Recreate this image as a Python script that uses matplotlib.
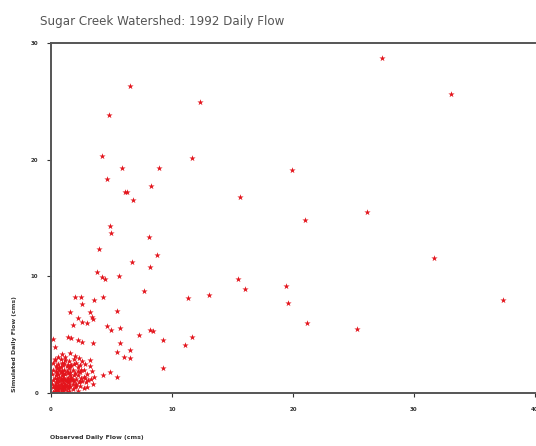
import matplotlib
matplotlib.use('Agg')
import matplotlib.pyplot as plt

# observed vs simulated daily flow, cms
high_x = [27.4, 33.1, 6.5, 12.3, 4.8, 4.2, 11.7, 5.9, 8.9, 4.6, 19.9, 6.1, 6.3, 8.3, 6.8,
          15.6, 26.1, 21.0, 4.9, 5.0, 8.1, 4.0, 8.8, 31.7, 6.7, 8.2, 3.8, 4.2, 5.6, 4.5,
          15.5, 16.0, 19.4, 19.6, 13.1, 11.3, 21.2, 25.3, 37.4, 7.7, 8.4, 9.3, 11.1, 11.7,
          9.3, 2.0, 2.5, 2.6, 3.6, 4.3, 5.5, 3.2, 2.2, 2.6, 3.0, 4.6, 5.0, 5.7, 7.3, 1.4,
          1.7, 2.2, 2.6, 3.5, 5.7, 6.5, 5.5, 6.0, 6.5, 4.9, 4.3, 5.5, 0.3, 0.3, 1.6, 3.4,
          3.5, 1.8, 8.2, 0.2]
high_y = [28.7, 25.6, 26.3, 24.9, 23.8, 20.3, 20.1, 19.3, 19.3, 18.3, 19.1, 17.2, 17.2, 17.7, 16.5,
          16.8, 15.5, 14.8, 14.3, 13.7, 13.4, 12.3, 11.8, 11.6, 11.2, 10.8, 10.4, 9.9, 10.0, 9.8,
          9.8, 8.9, 9.2, 7.7, 8.4, 8.1, 6.0, 5.5, 8.0, 8.7, 5.3, 4.5, 4.1, 4.8,
          2.1, 8.2, 8.2, 7.6, 8.0, 8.2, 7.0, 6.9, 6.4, 6.1, 6.0, 5.7, 5.4, 5.6, 5.0, 4.8,
          4.7, 4.5, 4.4, 4.3, 4.3, 3.7, 3.5, 3.1, 3.0, 1.8, 1.5, 1.4, 3.9, 2.8, 6.9, 6.5,
          6.3, 5.8, 5.4, 4.6]

low_x = [0.2, 0.3, 0.4, 0.5, 0.6, 0.7, 0.8, 0.9, 1.0, 1.1, 1.2, 1.3, 1.4, 1.5, 1.6, 1.8, 2.0, 2.2, 2.4, 2.7,
         0.2, 0.3, 0.4, 0.5, 0.6, 0.7, 0.8, 0.9, 1.0, 1.1, 1.2, 1.3, 1.4, 1.5, 1.6, 1.7, 1.9, 2.1, 2.3, 2.5,
         0.3, 0.4, 0.5, 0.6, 0.7, 0.8, 0.9, 1.0, 1.1, 1.2, 1.3, 1.4, 1.5, 1.6, 1.8, 2.0, 2.2, 2.4, 2.7, 3.0,
         0.2, 0.4, 0.5, 0.6, 0.8, 0.9, 1.0, 1.2, 1.3, 1.5, 1.7, 1.9, 2.1, 2.3, 2.6, 0.3, 0.6, 0.9, 1.2, 1.6,
         2.0, 0.1, 0.1, 0.2, 3.3, 3.5, 3.2, 2.9, 2.8, 3.4, 0.5, 0.7, 0.9, 1.1, 1.3, 1.5, 0.6, 0.8, 1.0, 1.2,
         0.4, 0.5, 0.7, 1.4, 1.7, 1.9, 2.2, 2.4, 1.1, 0.8, 0.3, 0.2, 1.0, 1.8, 2.1, 2.6, 3.0, 1.4, 1.6, 0.9,
         0.6, 0.9, 1.2, 1.5, 1.8, 2.1, 2.4, 2.7, 3.1, 0.4, 0.7, 1.0, 1.3, 1.6, 1.9, 2.2, 2.5, 2.8, 3.2, 3.6]
low_y = [0.1, 0.2, 0.1, 0.3, 0.2, 0.4, 0.1, 0.3, 0.2, 0.5, 0.3, 0.1, 0.4, 0.2, 0.6, 0.3, 0.5, 0.2, 0.6, 0.4,
         0.5, 0.7, 0.6, 0.9, 0.7, 1.0, 0.8, 1.1, 0.9, 1.2, 0.8, 1.0, 1.3, 0.9, 1.1, 1.4, 1.0, 1.2, 0.9, 1.3,
         1.3, 1.5, 1.2, 1.6, 1.4, 1.8, 1.5, 1.7, 2.0, 1.6, 1.9, 1.7, 2.1, 1.8, 2.0, 1.7, 2.2, 1.8, 2.0, 1.6,
         2.0, 2.3, 2.1, 2.5, 2.2, 2.6, 2.4, 2.8, 2.3, 2.7, 2.4, 2.9, 2.6, 3.0, 2.7, 2.9, 3.1, 3.3, 3.1, 3.4,
         3.2, 0.8, 1.6, 2.6, 1.2, 0.8, 2.3, 0.9, 2.5, 1.9, 0.5, 0.6, 0.6, 0.7, 0.6, 0.5, 1.0, 1.2, 1.3, 1.1,
         0.9, 1.7, 2.0, 2.4, 1.2, 1.5, 1.5, 2.4, 2.6, 2.9, 0.4, 1.1, 0.5, 0.8, 0.8, 1.0, 0.5, 0.9, 1.5, 1.9,
         0.3, 0.4, 0.6, 0.7, 1.1, 0.6, 1.0, 1.4, 1.1, 1.9, 2.2, 1.5, 1.2, 2.3, 2.5, 1.9, 2.0, 1.3, 2.8, 1.4]

x_ticks = [0, 10, 20, 30, 40]
y_ticks = [0, 10, 20, 30]

fig = plt.figure(figsize=(5.36, 4.46), dpi=100)
ax = fig.add_axes([0.095, 0.119, 0.903, 0.785])

ax.scatter(high_x + low_x, high_y + low_y, marker='*', s=22, color='#e3141c', linewidths=0)

ax.set_xlim(0, 40)
ax.set_ylim(0, 30)
ax.set_xticks(x_ticks)
ax.set_yticks(y_ticks)
ax.tick_params(labelsize=4, length=3, width=0.8, colors='#333333')
for lab in ax.get_xticklabels() + ax.get_yticklabels():
    lab.set_fontweight('bold')
ax.tick_params(axis='x', pad=7)
ax.tick_params(axis='y', pad=6)

for side in ['left', 'bottom', 'top']:
    ax.spines[side].set_color('#555555')
    ax.spines[side].set_linewidth(1.4)
ax.spines['right'].set_visible(False)

fig.text(40/536, 1 - 21/446, 'Sugar Creek Watershed: 1992 Daily Flow',
         fontsize=8.6, color='#555555', va='center', ha='left')
fig.text(50/536, 1 - 437/446, 'Observed Daily Flow (cms)',
         fontsize=4.5, fontweight='bold', color='#333333', va='center', ha='left')
fig.text(15/536, 1 - 392/446, 'Simulated Daily Flow (cms)', rotation=90,
         fontsize=4.5, fontweight='bold', color='#333333', va='bottom', ha='center')

fig.savefig('out.png', dpi=100)
